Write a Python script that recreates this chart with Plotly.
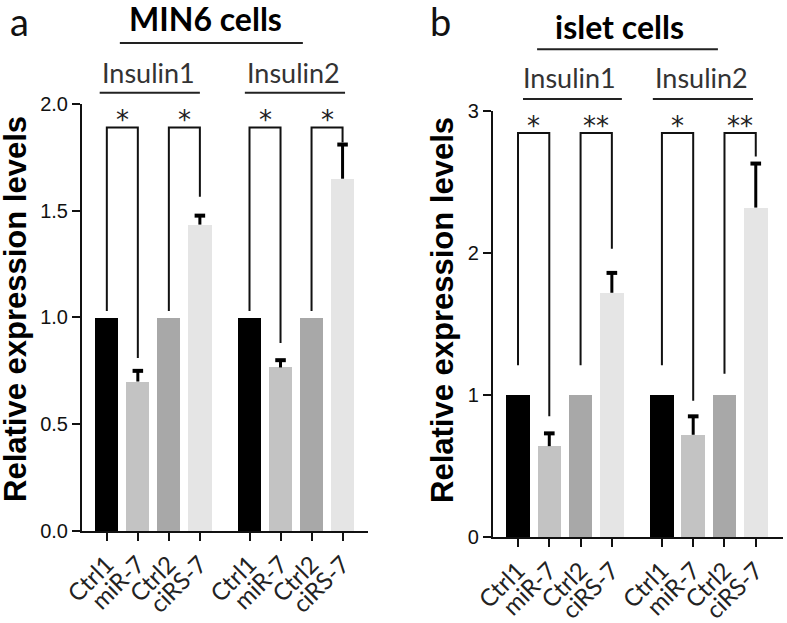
import plotly.graph_objects as go

# ---------------- data ----------------
categories = ["Ctrl1", "miR-7", "Ctrl2", "ciRS-7", "Ctrl1", "miR-7", "Ctrl2", "ciRS-7"]
bar_colors = ["#000000", "#c3c3c3", "#a8a8a8", "#e5e5e5"] * 2

min6_values = [1.0, 0.70, 1.0, 1.435, 1.0, 0.766, 1.0, 1.65]
min6_err = [0.0, 0.05, 0.0, 0.042, 0.0, 0.034, 0.0, 0.16]

islet_values = [1.0, 0.64, 1.0, 1.72, 1.0, 0.72, 1.0, 2.32]
islet_err = [0.0, 0.09, 0.0, 0.14, 0.0, 0.13, 0.0, 0.31]

# significance brackets: (left index, right index), leg ends, top, label
min6_pairs = [(0, 1), (2, 3), (4, 5), (6, 7)]
min6_leg_left = [1.03, 1.03, 1.03, 1.03]
min6_leg_right = [0.81, 1.565, 0.88, 1.82]
min6_top = 1.89
min6_stars = ["*", "*", "*", "*"]

islet_pairs = [(0, 1), (2, 3), (4, 5), (6, 7)]
islet_leg_left = [1.21, 1.21, 1.21, 1.15]
islet_leg_right = [0.85, 2.03, 0.96, 2.68]
islet_top = 2.845
islet_stars = ["*", "**", "*", "**"]

# x positions (two groups of four, with a gap)
positions = [0, 1, 2, 3, 4.6, 5.6, 6.6, 7.6]

LINE = "#111111"
CAP = 0.17  # half-width of error-bar caps in category units
fig = go.Figure()


def add_panel(values, errs, pairs, leg_l, leg_r, top, stars, xa, ya):
    fig.add_trace(go.Bar(
        x=positions, y=values, width=0.75,
        marker=dict(color=bar_colors, line=dict(width=0)),
        xaxis=xa, yaxis=ya, showlegend=False, hoverinfo="skip"))
    # upward-only error bars
    ex, ey, cx, cy = [], [], [], []
    for p, v, e in zip(positions, values, errs):
        if e > 0:
            ex += [p, p, None]
            ey += [v, v + e, None]
            cx += [p - CAP, p + CAP, None]
            cy += [v + e, v + e, None]
    fig.add_trace(go.Scatter(x=ex, y=ey, mode="lines",
                             line=dict(color="#000000", width=3),
                             xaxis=xa, yaxis=ya, showlegend=False, hoverinfo="skip"))
    fig.add_trace(go.Scatter(x=cx, y=cy, mode="lines",
                             line=dict(color="#000000", width=4),
                             xaxis=xa, yaxis=ya, showlegend=False, hoverinfo="skip"))
    for k, (i, j) in enumerate(pairs):
        fig.add_trace(go.Scatter(
            x=[positions[i], positions[i], positions[j], positions[j]],
            y=[leg_l[k], top, top, leg_r[k]],
            mode="lines", line=dict(color=LINE, width=2),
            xaxis=xa, yaxis=ya, showlegend=False, hoverinfo="skip"))
        fig.add_annotation(
            x=(positions[i] + positions[j]) / 2, y=top,
            xref=xa, yref=ya.replace("axis", ""),
            text=stars[k], showarrow=False, xanchor="center", yanchor="middle",
            yshift=7, font=dict(family="DejaVu Sans", size=26, color="#222222"))


add_panel(min6_values, min6_err, min6_pairs, min6_leg_left, min6_leg_right,
          min6_top, min6_stars, "x", "y")
add_panel(islet_values, islet_err, islet_pairs, islet_leg_left, islet_leg_right,
          islet_top, islet_stars, "x2", "y2")

tickfont_x = dict(family="Lato", size=24, color="#222222")
tickfont_y = dict(family="Liberation Sans", size=20, color="#111111")

common_x = dict(tickvals=positions, ticktext=categories, tickangle=-45,
                tickfont=tickfont_x, showline=True, linecolor=LINE, linewidth=2,
                ticks="outside", ticklen=8, tickwidth=2, tickcolor=LINE,
                showgrid=False, zeroline=False, fixedrange=True, automargin=False)
common_y = dict(showline=True, linecolor=LINE, linewidth=2, ticks="outside",
                ticklen=8, tickwidth=2, tickcolor=LINE, showgrid=False,
                zeroline=False, tickfont=tickfont_y, fixedrange=True,
                automargin=False)

fig.update_layout(
    width=787, height=623, margin=dict(l=0, r=0, t=0, b=0),
    paper_bgcolor="white", plot_bgcolor="white", bargap=0,
    xaxis=dict(domain=[0.1042, 0.4676], range=[-0.8, 8.42], anchor="y", **common_x),
    yaxis=dict(domain=[0.1477, 0.8331], range=[0, 2.0], anchor="x",
               tickvals=[0, 0.5, 1.0, 1.5, 2.0],
               ticktext=["0.0", "0.5", "1.0", "1.5", "2.0"], **common_y),
    xaxis2=dict(domain=[0.6264, 0.9949], range=[-0.8, 8.47], anchor="y2", **common_x),
    yaxis2=dict(domain=[0.138, 0.8218], range=[0, 3], anchor="x2",
                tickvals=[0, 1, 2, 3], ticktext=["0", "1", "2", "3"], **common_y),
)

# y-axis titles
ytitle_font = dict(family="Liberation Sans", size=31, color="#000000")
for tx, ty in [(15 / 787, 1 - 309 / 623), (442 / 787, 1 - 310 / 623)]:
    fig.add_annotation(x=tx, y=ty, xref="paper", yref="paper",
                       text="<b>Relative expression levels</b>", textangle=-90,
                       xanchor="center", yanchor="middle",
                       showarrow=False, font=ytitle_font)

# group headers and underlines
head_font = dict(family="Lato", size=27, color="#333333")
title_font = dict(family="Lato", size=32, color="#000000")
headers = [
    # xref, title x, title, underline x0,x1, title y, line y, font
    ("x", 3.19, "<b>MIN6 cells</b>", 0.42, 6.32, 0.97, 0.931, title_font),
    ("x", 1.35, "Insulin1", -0.23, 3.0, 0.883, 0.851, head_font),
    ("x", 6.03, "Insulin2", 4.45, 7.68, 0.883, 0.851, head_font),
    ("x2", 3.26, "<b>islet cells</b>", 0.61, 6.39, 0.958, 0.921, title_font),
    ("x2", 1.66, "Insulin1", 0.16, 3.32, 0.876, 0.841, head_font),
    ("x2", 5.88, "Insulin2", 4.31, 7.51, 0.876, 0.841, head_font),
]
for xr, tx, txt, x0, x1, ty, ly, fnt in headers:
    fig.add_annotation(x=tx, y=ty, xref=xr, yref="paper", text=txt,
                       showarrow=False, font=fnt, xanchor="center", yanchor="middle")
    fig.add_shape(type="line", xref=xr, yref="paper", x0=x0, x1=x1, y0=ly, y1=ly,
                  line=dict(color="#222222", width=2))

letter_font = dict(family="Lato", size=38, color="#111111")
for lx, letter in [(19 / 787, "a"), (441 / 787, "b")]:
    fig.add_annotation(x=lx, y=1 - 21 / 623, xref="paper", yref="paper", text=letter,
                       xanchor="center", yanchor="middle",
                       showarrow=False, font=letter_font)

fig.write_html("out.html", config={"displayModeBar": False},
               post_script="document.body.style.margin='0px';")
